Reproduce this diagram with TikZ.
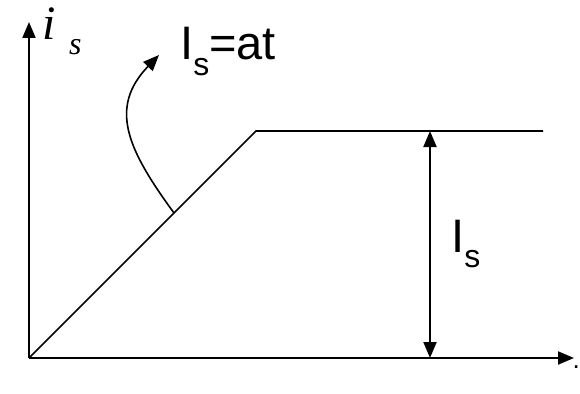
\documentclass[tikz,border=0pt]{standalone}
\usepackage{fontspec}
\setmainfont{Liberation Sans}
\newfontfamily\timesfont{Liberation Serif}
\usetikzlibrary{arrows.meta}
\newcommand{\sub}[1]{\raisebox{-0.32em}{\fontsize{32}{32}\selectfont #1}}
\tikzset{
  tip/.tip={Triangle[length=16pt,width=13pt]},
  axis/.style={line width=2pt,-tip},
  curve/.style={line width=1.6pt},
  dimarrow/.style={line width=2pt,tip-tip},
  lbl/.style={inner sep=0pt,font=\fontsize{47}{47}\selectfont}
}
\begin{document}
\begin{tikzpicture}[x=1pt,y=-1pt]
\useasboundingbox (0,0) rectangle (580,393);
\coordinate (O) at (29,358);
\coordinate (X) at (574,358);
\coordinate (Y) at (29,22);
\coordinate (K) at (256,131);
\coordinate (P) at (543,131);
\coordinate (A) at (430,131);
\coordinate (B) at (430,358);
\coordinate (S) at (174,213);
\coordinate (T) at (159,55);
\draw[axis] (O) -- (X);
\draw[axis] (O) -- (Y);
\draw[curve] (O) -- (K) -- (P);
\draw[dimarrow] (A) -- (B);
\draw[curve,-tip] (S) .. controls (128,150) and (108,108) .. (T);
\node[lbl,anchor=base west] (lab1) at (180,60) {I\sub{s}=at};
\node[lbl,anchor=base west] (lab2) at (451,252) {I\sub{s}};
\node[inner sep=0pt,anchor=base west,font=\timesfont\itshape\fontsize{48}{48}\selectfont] (is) at (42,40) {i};
\node[inner sep=0pt,anchor=base west,font=\timesfont\itshape\fontsize{32}{32}\selectfont] (iss) at (69,55) {s};
\node[inner sep=0pt,anchor=base east,font=\fontsize{26}{26}\selectfont] (dot) at (580,368) {.};
\end{tikzpicture}
\end{document}
